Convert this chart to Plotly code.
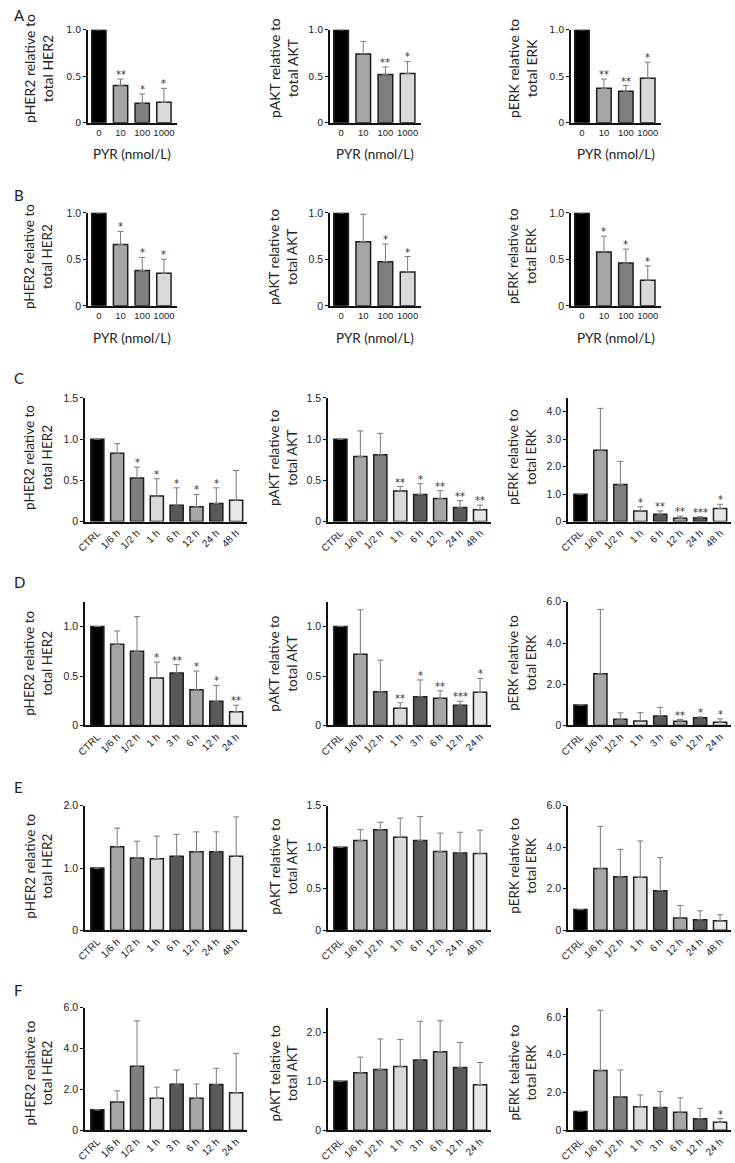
import plotly.graph_objects as go

W, H = 735, 1163

# ---------------- data ----------------
dose_cats = ["0", "10", "100", "1000"]
time_cats_48 = ["CTRL", "1/6 h", "1/2 h", "1 h", "6 h", "12 h", "24 h", "48 h"]
time_cats_24 = ["CTRL", "1/6 h", "1/2 h", "1 h", "3 h", "6 h", "12 h", "24 h"]

# Row A
a_her2 = [1.0, 0.40, 0.21, 0.22]
a_her2_err = [None, 0.07, 0.10, 0.15]
a_her2_sig = ["", "**", "*", "*"]
a_akt = [1.0, 0.74, 0.52, 0.53]
a_akt_err = [None, 0.135, 0.08, 0.13]
a_akt_sig = ["", "", "**", "*"]
a_erk = [1.0, 0.37, 0.34, 0.48]
a_erk_err = [None, 0.10, 0.06, 0.17]
a_erk_sig = ["", "**", "**", "*"]

# Row B
b_her2 = [1.0, 0.66, 0.38, 0.35]
b_her2_err = [None, 0.14, 0.14, 0.15]
b_her2_sig = ["", "*", "*", "*"]
b_akt = [1.0, 0.69, 0.475, 0.365]
b_akt_err = [None, 0.295, 0.19, 0.165]
b_akt_sig = ["", "", "*", "*"]
b_erk = [1.0, 0.58, 0.46, 0.275]
b_erk_err = [None, 0.17, 0.15, 0.155]
b_erk_sig = ["", "*", "*", "*"]

# Row C
c_her2 = [1.0, 0.83, 0.53, 0.31, 0.20, 0.18, 0.22, 0.26]
c_her2_err = [None, 0.115, 0.13, 0.21, 0.21, 0.15, 0.19, 0.36]
c_her2_sig = ["", "", "*", "*", "*", "*", "*", ""]
c_akt = [1.0, 0.79, 0.81, 0.37, 0.33, 0.28, 0.17, 0.145]
c_akt_err = [None, 0.31, 0.26, 0.055, 0.13, 0.095, 0.085, 0.055]
c_akt_sig = ["", "", "", "**", "*", "**", "**", "**"]
c_erk = [1.0, 2.60, 1.35, 0.39, 0.27, 0.12, 0.13, 0.48]
c_erk_err = [None, 1.52, 0.84, 0.15, 0.12, 0.08, 0.05, 0.15]
c_erk_sig = ["", "", "", "*", "**", "**", "***", "*"]

# Row D
d_her2 = [1.0, 0.82, 0.75, 0.48, 0.53, 0.36, 0.245, 0.14]
d_her2_err = [None, 0.135, 0.35, 0.16, 0.085, 0.19, 0.16, 0.065]
d_her2_sig = ["", "", "", "*", "**", "*", "*", "**"]
d_akt = [1.0, 0.72, 0.34, 0.175, 0.29, 0.275, 0.205, 0.335]
d_akt_err = [None, 0.45, 0.32, 0.055, 0.17, 0.075, 0.04, 0.14]
d_akt_sig = ["", "", "", "**", "*", "**", "***", "*"]
d_erk = [1.0, 2.51, 0.30, 0.22, 0.46, 0.21, 0.37, 0.16]
d_erk_err = [None, 3.12, 0.31, 0.40, 0.42, 0.08, 0.05, 0.16]
d_erk_sig = ["", "", "", "", "", "**", "*", "*"]

# Row E
e_her2 = [1.0, 1.34, 1.16, 1.15, 1.19, 1.26, 1.26, 1.19]
e_her2_err = [None, 0.30, 0.27, 0.36, 0.35, 0.32, 0.32, 0.63]
e_her2_sig = [""] * 8
e_akt = [1.0, 1.08, 1.21, 1.12, 1.08, 0.95, 0.93, 0.925]
e_akt_err = [None, 0.13, 0.09, 0.23, 0.29, 0.22, 0.25, 0.28]
e_akt_sig = [""] * 8
e_erk = [1.0, 2.98, 2.58, 2.55, 1.91, 0.59, 0.51, 0.46]
e_erk_err = [None, 2.02, 1.32, 1.75, 1.59, 0.60, 0.43, 0.29]
e_erk_sig = [""] * 8

# Row F
f_her2 = [1.0, 1.38, 3.13, 1.56, 2.25, 1.56, 2.24, 1.84]
f_her2_err = [None, 0.55, 2.22, 0.55, 0.70, 0.70, 0.79, 1.92]
f_her2_sig = [""] * 8
f_akt = [1.0, 1.17, 1.24, 1.30, 1.43, 1.60, 1.28, 0.93]
f_akt_err = [None, 0.32, 0.62, 0.55, 0.79, 0.63, 0.51, 0.45]
f_akt_sig = [""] * 8
f_erk = [1.0, 3.16, 1.76, 1.25, 1.20, 0.96, 0.61, 0.42]
f_erk_err = [None, 3.20, 1.44, 0.62, 0.85, 0.76, 0.55, 0.20]
f_erk_sig = ["", "", "", "", "", "", "", "*"]

ylab_her2 = "pHER2 relative to<br>total HER2"
ylab_akt = "pAKT relative to<br>total AKT"
ylab_akt_f = "pAKT telative to<br>total AKT"
ylab_erk = "pERK relative to<br>total ERK"
ylab_erk_f = "pERK telative to<br>total ERK"
xlab_dose = "PYR (nmol/L)"
row_letters = ["A", "B", "C", "D", "E", "F"]

# ---------------- styling / layout ----------------
colors4 = ["#000000", "#a6a6a6", "#7f7f7f", "#d9d9d9"]
colors8 = ["#000000", "#a6a6a6", "#7f7f7f", "#d9d9d9", "#595959", "#a6a6a6", "#595959", "#e8e8e8"]

# (top_px, bottom_px) for each row
row_y = [(24, 118), (209, 303), (396, 521), (602, 727), (808, 934), (1012, 1136)]
x4 = [(80, 170), (325, 417), (569, 660)]
x8 = [(77, 241), (323, 488), (566, 731)]
title_x = [30, 278, 520]
title_y = [63, 253, 456, 664, 869, 1078]
letter_y = [9, 191, 376, 582, 789, 994]

panels = [
    # row, col, cats, vals, errs, sigs, ymax, tickvals, ticktext, ylabel
    (0, 0, dose_cats, a_her2, a_her2_err, a_her2_sig, 1.0, [0, 0.5, 1.0], ["0", "0.5", "1.0"], ylab_her2),
    (0, 1, dose_cats, a_akt, a_akt_err, a_akt_sig, 1.0, [0, 0.5, 1.0], ["0", "0.5", "1.0"], ylab_akt),
    (0, 2, dose_cats, a_erk, a_erk_err, a_erk_sig, 1.0, [0, 0.5, 1.0], ["0", "0.5", "1.0"], ylab_erk),
    (1, 0, dose_cats, b_her2, b_her2_err, b_her2_sig, 1.0, [0, 0.5, 1.0], ["0", "0.5", "1.0"], ylab_her2),
    (1, 1, dose_cats, b_akt, b_akt_err, b_akt_sig, 1.0, [0, 0.5, 1.0], ["0", "0.5", "1.0"], ylab_akt),
    (1, 2, dose_cats, b_erk, b_erk_err, b_erk_sig, 1.0, [0, 0.5, 1.0], ["0", "0.5", "1.0"], ylab_erk),
    (2, 0, time_cats_48, c_her2, c_her2_err, c_her2_sig, 1.5, [0, 0.5, 1.0, 1.5], ["0", "0.5", "1.0", "1.5"], ylab_her2),
    (2, 1, time_cats_48, c_akt, c_akt_err, c_akt_sig, 1.5, [0, 0.5, 1.0, 1.5], ["0", "0.5", "1.0", "1.5"], ylab_akt),
    (2, 2, time_cats_48, c_erk, c_erk_err, c_erk_sig, 4.5, [0, 1, 2, 3, 4], ["0", "1.0", "2.0", "3.0", "4.0"], ylab_erk),
    (3, 0, time_cats_24, d_her2, d_her2_err, d_her2_sig, 1.25, [0, 0.5, 1.0], ["0", "0.5", "1.0"], ylab_her2),
    (3, 1, time_cats_24, d_akt, d_akt_err, d_akt_sig, 1.25, [0, 0.5, 1.0], ["0", "0.5", "1.0"], ylab_akt),
    (3, 2, time_cats_24, d_erk, d_erk_err, d_erk_sig, 6.0, [0, 2, 4, 6], ["0", "2.0", "4.0", "6.0"], ylab_erk),
    (4, 0, time_cats_48, e_her2, e_her2_err, e_her2_sig, 2.0, [0, 1, 2], ["0", "1.0", "2.0"], ylab_her2),
    (4, 1, time_cats_48, e_akt, e_akt_err, e_akt_sig, 1.5, [0, 0.5, 1.0, 1.5], ["0", "0.5", "1.0", "1.5"], ylab_akt),
    (4, 2, time_cats_48, e_erk, e_erk_err, e_erk_sig, 6.0, [0, 2, 4, 6], ["0", "2.0", "4.0", "6.0"], ylab_erk),
    (5, 0, time_cats_24, f_her2, f_her2_err, f_her2_sig, 6.0, [0, 2, 4, 6], ["0", "2.0", "4.0", "6.0"], ylab_her2),
    (5, 1, time_cats_24, f_akt, f_akt_err, f_akt_sig, 2.5, [0, 1, 2], ["0", "1.0", "2.0"], ylab_akt_f),
    (5, 2, time_cats_24, f_erk, f_erk_err, f_erk_sig, 6.5, [0, 2, 4, 6], ["0", "2.0", "4.0", "6.0"], ylab_erk_f),
]

TITLE_FONT = "Lato, Open Sans, sans-serif"
NARROW = "Liberation Sans Narrow, Liberation Sans, Arial, sans-serif"

fig = go.Figure()
annotations = []
layout_axes = {}

for i, (r, c, cats, vals, errs, sigs, ymax, tv, tt, ylab) in enumerate(panels):
    n = len(cats)
    xs = "x" if i == 0 else f"x{i+1}"
    ys = "y" if i == 0 else f"y{i+1}"
    xk = "xaxis" if i == 0 else f"xaxis{i+1}"
    yk = "yaxis" if i == 0 else f"yaxis{i+1}"
    cols = colors4 if n == 4 else colors8
    xpx = (x4 if n == 4 else x8)[c]
    top, bot = row_y[r]

    fig.add_trace(go.Bar(
        x=cats, y=vals, xaxis=xs, yaxis=ys,
        marker=dict(color=cols, line=dict(color="#1e1e1e", width=1.5)),
        width=0.66,
        error_y=dict(type="data", array=[e if e is not None else float("nan") for e in errs],
                     arrayminus=[0] * n, symmetric=False,
                     color="#7a7a7a", thickness=1, width=3),
        showlegend=False, hoverinfo="skip",
    ))

    if r == 0:
        yfont = dict(family="DejaVu Sans, sans-serif", size=9.5, color="#222")
        xfont = dict(family="Liberation Sans, Arial, sans-serif", size=9.5, color="#222")
    elif r == 1:
        yfont = dict(family=NARROW, size=10.5, color="#222")
        xfont = dict(family=NARROW, size=9.5, color="#222")
    else:
        yfont = dict(family=NARROW, size=10.5, color="#222")
        xfont = dict(family=NARROW, size=10, color="#222")

    layout_axes[xk] = dict(
        domain=[xpx[0] / W, xpx[1] / W], anchor=ys,
        type="category",
        range=[-0.5, 3.6] if n == 4 else [-0.62, 7.55],
        showline=True, linecolor="#111", linewidth=1.5,
        ticks="", showgrid=False, zeroline=False,
        tickangle=0 if n == 4 else -45,
        tickfont=xfont,
        fixedrange=True,
    )
    layout_axes[yk] = dict(
        domain=[1 - bot / H, 1 - top / H], anchor=xs,
        range=[0, ymax],
        tickvals=tv, ticktext=tt,
        showline=True, linecolor="#111", linewidth=1.5,
        ticks="outside", ticklen=3, tickwidth=1, tickcolor="#111",
        showgrid=False, zeroline=False,
        tickfont=yfont,
        fixedrange=True,
    )

    # significance marks (x given as category index)
    for j, (v, e, s) in enumerate(zip(vals, errs, sigs)):
        if s:
            annotations.append(dict(
                x=j, y=v + (e or 0), xref=xs, yref=ys, text=s, showarrow=False,
                yanchor="bottom", yshift=-3,
                font=dict(family="DejaVu Sans, sans-serif", size=10, color="#333"),
            ))

    # y-axis title
    annotations.append(dict(
        x=title_x[c] / W, y=1 - title_y[r] / H, xref="paper", yref="paper",
        text=ylab, textangle=-90, showarrow=False,
        xanchor="center", yanchor="middle",
        font=dict(family=TITLE_FONT, size=14 if r == 0 else 13.5, color="#222"),
    ))

    # x-axis title for dose rows
    if n == 4:
        annotations.append(dict(
            x=(xpx[0] + xpx[1]) / 2 / W, y=1 - (bot + 32) / H,
            xref="paper", yref="paper", text=xlab_dose, showarrow=False,
            xanchor="center", yanchor="middle",
            font=dict(family=TITLE_FONT, size=13.5, color="#222"),
        ))

for r, letter in enumerate(row_letters):
    annotations.append(dict(
        x=3 / W, y=1 - letter_y[r] / H, xref="paper", yref="paper",
        text=letter, showarrow=False, xanchor="left", yanchor="middle",
        font=dict(family=TITLE_FONT, size=15, color="#222"),
    ))

fig.update_layout(
    width=W, height=H,
    margin=dict(l=0, r=0, t=0, b=0),
    paper_bgcolor="white", plot_bgcolor="white",
    annotations=annotations,
    **layout_axes,
)

fig.write_html(
    "out.html",
    config={"displayModeBar": False},
    post_script="document.body.style.margin='0';document.body.style.overflow='hidden';",
)
